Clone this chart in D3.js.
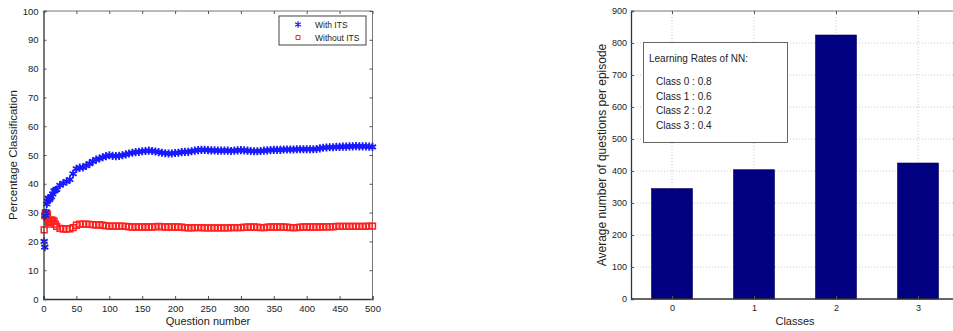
<!DOCTYPE html>
<html><head><meta charset="utf-8">
<script src="https://cdn.jsdelivr.net/npm/d3@7"></script>
<style>
html,body{margin:0;padding:0;background:#fff;overflow:hidden;}
text{font-family:"Liberation Sans",Arial,Helvetica,sans-serif;fill:#222;}
</style></head>
<body>
<svg id="chart" width="953" height="331"></svg>
<script>
// ---------- Left chart data ----------
const questionNumbers = [1,2,3,4,5,6,7,8,9,10,12,14,16,18,20,
 25,30,35,40,45,50,55,60,65,70,75,80,85,90,95,100,
 105,110,115,120,125,130,135,140,145,150,155,160,165,170,175,180,185,190,195,200,
 205,210,215,220,225,230,235,240,245,250,255,260,265,270,275,280,285,290,295,300,
 305,310,315,320,325,330,335,340,345,350,355,360,365,370,375,380,385,390,395,400,
 405,410,415,420,425,430,435,440,445,450,455,460,465,470,475,480,485,490,495,500];
const withITS = [20,18,29,30,33,34,35,35,34.5,35,35.5,36.5,37.5,37.8,38,
 39.5,40.2,40.8,41.5,43.5,45.2,45.6,45.7,46.3,47,47.8,48.4,48.8,49.2,49.6,49.9,
 49.7,49.6,49.7,49.9,50.2,50.5,50.8,51,51.1,51.3,51.4,51.5,51.4,51.2,51,50.8,50.6,50.5,50.5,50.7,
 50.8,51,51.1,51.1,51.3,51.5,51.7,51.8,51.8,51.7,51.6,51.6,51.5,51.5,51.5,51.5,51.4,51.5,51.6,51.7,
 51.6,51.5,51.4,51.3,51.3,51.4,51.5,51.6,51.7,51.8,51.8,51.8,51.9,51.9,51.9,51.9,52,52,52,52,
 52,52,52.1,52.3,52.5,52.6,52.7,52.7,52.8,52.8,52.9,52.9,53,53,53.1,53,53,53,52.9,52.8];
const withoutITS = [24,29,30,30,28.5,29.5,27,26.5,26,27,27.5,27.3,27,26,25.2,
 24.5,24.3,24.3,24.4,24.8,25.6,26,26,26,25.9,25.8,25.7,25.8,25.6,25.4,25.3,
 25.3,25.3,25.3,25.3,25.2,25.1,25,25,25,25,25,25,25,25.1,25.2,25.1,25,25,25,25,
 25,24.9,24.8,24.7,24.7,24.8,24.8,24.8,24.7,24.7,24.7,24.7,24.7,24.7,24.7,24.7,24.8,24.8,24.8,24.8,
 24.9,24.9,25,25,24.9,24.8,24.8,24.9,25,25,25,25,25,24.9,24.8,24.8,24.8,24.9,25,25,
 25,25,25,25,25,25.1,25.1,25.1,25.2,25.2,25.2,25.2,25.2,25.2,25.2,25.2,25.2,25.2,25.3,25.3];
const leftXTicks = [0,50,100,150,200,250,300,350,400,450,500];
const leftYTicks = [0,10,20,30,40,50,60,70,80,90,100];
const leftSeriesNames = ["With ITS","Without ITS"];

// ---------- Right chart data ----------
const classes = [0,1,2,3];
const avgQuestions = [345,404,825,425];
const rightYTicks = [0,100,200,300,400,500,600,700,800,900];
const annotationTitle = "Learning Rates of NN:";
const learningRates = ["Class 0 : 0.8","Class 1 : 0.6","Class 2 : 0.2","Class 3 : 0.4"];

const svg = d3.select("#chart");

// ================= LEFT CHART =================
(function(){
  const L = 43.5, R = 372.5, T = 11, B = 299;
  const x = d3.scaleLinear().domain([0,500]).range([L,R]);
  const y = d3.scaleLinear().domain([0,100]).range([B,T]);
  const g = svg.append("g");

  g.append("line").attr("x1",L).attr("x2",R).attr("y1",T).attr("y2",T).attr("stroke","#777").attr("stroke-width",1);
  g.append("line").attr("x1",R).attr("x2",R).attr("y1",T).attr("y2",B).attr("stroke","#777").attr("stroke-width",1);

  const blue = "#1a1aff", red = "#ff2020";
  const star = d3.symbol().type(d3.symbolAsterisk).size(46);
  const sq = d3.symbol().type(d3.symbolSquare).size(34);
  g.append("g").selectAll("path").data(questionNumbers).join("path")
    .attr("d", sq)
    .attr("transform",(d,i)=>`translate(${x(d)},${y(withoutITS[i])})`)
    .attr("fill","none").attr("stroke",red).attr("stroke-width",1.5);
  g.append("g").selectAll("path").data(questionNumbers).join("path")
    .attr("d", star)
    .attr("transform",(d,i)=>`translate(${x(d)},${y(withITS[i])})`)
    .attr("fill","none").attr("stroke",blue).attr("stroke-width",1.8);

  const xa = g.append("g").attr("transform",`translate(0,${B})`)
    .call(d3.axisBottom(x).tickValues(leftXTicks).tickSize(-3).tickPadding(6));
  const ya = g.append("g").attr("transform",`translate(${L},0)`)
    .call(d3.axisLeft(y).tickValues(leftYTicks).tickSize(-3).tickPadding(5));
  g.append("g").attr("transform",`translate(0,${T})`)
    .call(d3.axisTop(x).tickValues(leftXTicks).tickSize(-3).tickFormat(""))
    .call(s=>s.select(".domain").remove());
  g.append("g").attr("transform",`translate(${R},0)`)
    .call(d3.axisRight(y).tickValues(leftYTicks).tickSize(-3).tickFormat(""))
    .call(s=>s.select(".domain").remove());
  [xa,ya].forEach(a=>{
    a.select(".domain").attr("stroke","#333").attr("stroke-width",1.3);
    a.selectAll("text").style("font-size","9.5px").attr("fill","#222");
  });
  g.selectAll(".tick line").attr("stroke","#555");

  g.append("text").attr("x",(L+R)/2).attr("y",325).attr("text-anchor","middle")
    .style("font-size","11px").text("Question number");
  g.append("text").attr("transform",`translate(17,${(T+B)/2}) rotate(-90)`)
    .attr("text-anchor","middle").style("font-size","11.5px").text("Percentage Classification");

  const lg = g.append("g");
  lg.append("rect").attr("x",279).attr("y",16).attr("width",87).attr("height",29)
    .attr("fill","#fff").attr("stroke","#444").attr("stroke-width",1);
  lg.append("path").attr("d",d3.symbol().type(d3.symbolAsterisk).size(30)).attr("transform","translate(298,24.5)")
    .attr("fill","none").attr("stroke",blue).attr("stroke-width",1.2);
  lg.append("path").attr("d",d3.symbol().type(d3.symbolSquare).size(16)).attr("transform","translate(298,37.5)")
    .attr("fill","none").attr("stroke",red).attr("stroke-width",1);
  lg.append("text").attr("x",315).attr("y",27.5).style("font-size","8.5px").text(leftSeriesNames[0]);
  lg.append("text").attr("x",315).attr("y",40.5).style("font-size","8.5px").text(leftSeriesNames[1]);
})();

// ================= RIGHT CHART =================
(function(){
  const L = 631, T = 11, B = 299;
  const x = d3.scaleLinear().domain([-0.5,3.5]).range([L,959]);
  const y = d3.scaleLinear().domain([0,900]).range([B,T]);
  const g = svg.append("g");
  const Rr = 953;

  g.append("g").selectAll("line").data(rightYTicks.filter(d=>d>0 && d<900)).join("line")
    .attr("x1",L).attr("x2",Rr).attr("y1",d=>y(d)).attr("y2",d=>y(d))
    .attr("stroke","#bbb").attr("stroke-width",0.8).attr("stroke-dasharray","1,2");
  g.append("g").selectAll("line").data(classes).join("line")
    .attr("x1",d=>x(d)).attr("x2",d=>x(d)).attr("y1",T).attr("y2",B)
    .attr("stroke","#bbb").attr("stroke-width",0.8).attr("stroke-dasharray","1,2");

  const bw = x(0.25)-x(-0.25);
  g.append("g").selectAll("rect").data(classes).join("rect")
    .attr("x",d=>x(d)-bw/2).attr("width",bw)
    .attr("y",(d,i)=>y(avgQuestions[i])).attr("height",(d,i)=>B-y(avgQuestions[i]))
    .attr("fill","#000080").attr("stroke","#00005a").attr("stroke-width",0.6);

  g.append("line").attr("x1",L).attr("x2",Rr).attr("y1",T).attr("y2",T).attr("stroke","#777");

  const xa = g.append("g").attr("transform",`translate(0,${B})`)
    .call(d3.axisBottom(x).tickValues(classes).tickSize(-3).tickPadding(6).tickFormat(d3.format("d")));
  xa.select(".domain").attr("d",`M${L},0H${Rr}`);
  const ya = g.append("g").attr("transform",`translate(${L},0)`)
    .call(d3.axisLeft(y).tickValues(rightYTicks).tickSize(-3).tickPadding(4));
  g.append("g").attr("transform",`translate(0,${T})`)
    .call(d3.axisTop(x).tickValues(classes).tickSize(-3).tickFormat(""))
    .call(s=>s.select(".domain").remove());
  [xa,ya].forEach(a=>{
    a.select(".domain").attr("stroke","#333").attr("stroke-width",1.3);
    a.selectAll("text").style("font-size","9px").attr("fill","#222");
  });
  g.selectAll(".tick line").attr("stroke","#555");

  g.append("text").attr("x",x(1.5)).attr("y",325).attr("text-anchor","middle")
    .style("font-size","11px").text("Classes");
  g.append("text").attr("transform",`translate(606,${(T+B)/2}) rotate(-90)`)
    .attr("text-anchor","middle").style("font-size","12px").text("Average number of questions per episode");

  const ag = g.append("g");
  ag.append("rect").attr("x",643.5).attr("y",42.5).attr("width",144).attr("height",100)
    .attr("fill","#fff").attr("stroke","#555").attr("stroke-width",0.9);
  ag.append("text").attr("x",649).attr("y",61.5).style("font-size","10px").text(annotationTitle);
  ag.selectAll("text.lr").data(learningRates).join("text").attr("class","lr")
    .attr("x",656).attr("y",(d,i)=>85+i*14.5).style("font-size","10px").text(d=>d);
})();
</script>
</body></html>
